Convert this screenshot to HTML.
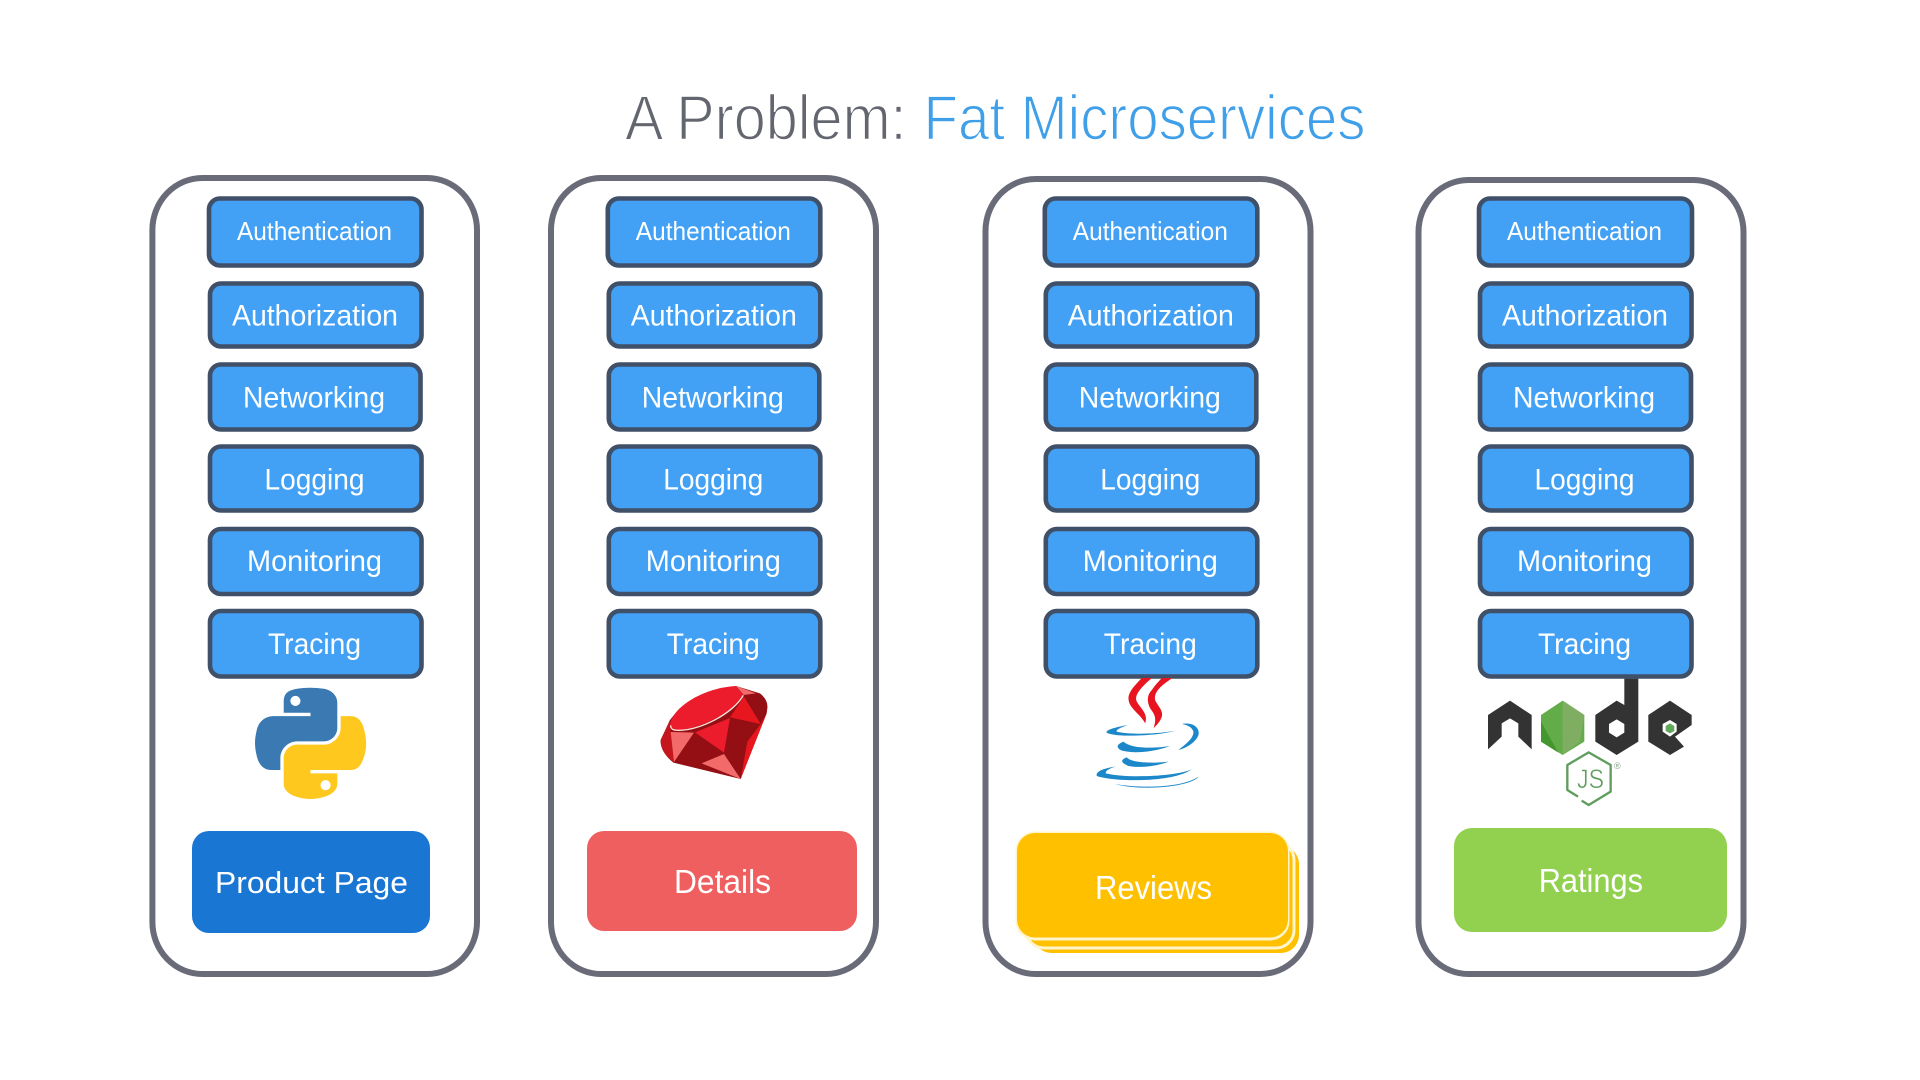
<!DOCTYPE html>
<html><head><meta charset="utf-8"><title>A Problem: Fat Microservices</title>
<style>
html,body{margin:0;padding:0;background:#fff;width:1920px;height:1080px;overflow:hidden}
svg{display:block}
text{font-family:"Liberation Sans",Arial,sans-serif}
.c{fill:#fff;stroke:#696b79;stroke-width:6}
.b{fill:#42a1f5;stroke:#3f5068;stroke-width:4.6}
.t{fill:#fff;font-size:30px}
.a{fill:#fff;font-size:26px}
.l{fill:#fff;font-size:33px}
</style></head><body>
<svg width="1920" height="1080" viewBox="0 0 1920 1080" xmlns="http://www.w3.org/2000/svg">
<rect width="1920" height="1080" fill="#fff"/>
<text x="625" y="139.5" font-size="63" fill="#64666f" stroke="#fff" stroke-width="1.5" textLength="281.5" lengthAdjust="spacingAndGlyphs">A Problem:</text>
<text x="923.5" y="139.5" font-size="63" fill="#3f9fe8" stroke="#fff" stroke-width="1.5" textLength="442" lengthAdjust="spacingAndGlyphs">Fat Microservices</text>

<rect class="c" x="152.4" y="178" width="324.6" height="796" rx="50" ry="52"/>
<rect class="c" x="551" y="178" width="325" height="796" rx="50" ry="52"/>
<rect class="c" x="985.5" y="179" width="325" height="795" rx="50" ry="52"/>
<rect class="c" x="1418.5" y="180" width="325" height="794" rx="50" ry="52"/>

<g>
<rect class="b" x="209" y="198.5" width="212.5" height="67" rx="11"/><text class="a" x="237" y="240" textLength="155" lengthAdjust="spacingAndGlyphs">Authentication</text>
<rect class="b" x="210" y="283.5" width="211.5" height="63" rx="11"/><text class="t" x="232" y="325.5" textLength="166" lengthAdjust="spacingAndGlyphs">Authorization</text>
<rect class="b" x="210" y="364.5" width="210.5" height="65" rx="11"/><text class="t" x="243" y="407.5" textLength="142" lengthAdjust="spacingAndGlyphs">Networking</text>
<rect class="b" x="210" y="446.5" width="211.5" height="64" rx="11"/><text class="t" x="264.5" y="489.5" textLength="100" lengthAdjust="spacingAndGlyphs">Logging</text>
<rect class="b" x="210" y="529" width="211.5" height="65" rx="11"/><text class="t" x="247" y="571" textLength="135" lengthAdjust="spacingAndGlyphs">Monitoring</text>
<rect class="b" x="210" y="611" width="211.5" height="65.5" rx="11"/><text class="t" x="268" y="654" textLength="93" lengthAdjust="spacingAndGlyphs">Tracing</text>
</g>
<g transform="translate(398.8 0)">
<rect class="b" x="209" y="198.5" width="212.5" height="67" rx="11"/><text class="a" x="237" y="240" textLength="155" lengthAdjust="spacingAndGlyphs">Authentication</text>
<rect class="b" x="210" y="283.5" width="211.5" height="63" rx="11"/><text class="t" x="232" y="325.5" textLength="166" lengthAdjust="spacingAndGlyphs">Authorization</text>
<rect class="b" x="210" y="364.5" width="210.5" height="65" rx="11"/><text class="t" x="243" y="407.5" textLength="142" lengthAdjust="spacingAndGlyphs">Networking</text>
<rect class="b" x="210" y="446.5" width="211.5" height="64" rx="11"/><text class="t" x="264.5" y="489.5" textLength="100" lengthAdjust="spacingAndGlyphs">Logging</text>
<rect class="b" x="210" y="529" width="211.5" height="65" rx="11"/><text class="t" x="247" y="571" textLength="135" lengthAdjust="spacingAndGlyphs">Monitoring</text>
<rect class="b" x="210" y="611" width="211.5" height="65.5" rx="11"/><text class="t" x="268" y="654" textLength="93" lengthAdjust="spacingAndGlyphs">Tracing</text>
</g>
<g transform="translate(835.8 0)">
<rect class="b" x="209" y="198.5" width="212.5" height="67" rx="11"/><text class="a" x="237" y="240" textLength="155" lengthAdjust="spacingAndGlyphs">Authentication</text>
<rect class="b" x="210" y="283.5" width="211.5" height="63" rx="11"/><text class="t" x="232" y="325.5" textLength="166" lengthAdjust="spacingAndGlyphs">Authorization</text>
<rect class="b" x="210" y="364.5" width="210.5" height="65" rx="11"/><text class="t" x="243" y="407.5" textLength="142" lengthAdjust="spacingAndGlyphs">Networking</text>
<rect class="b" x="210" y="446.5" width="211.5" height="64" rx="11"/><text class="t" x="264.5" y="489.5" textLength="100" lengthAdjust="spacingAndGlyphs">Logging</text>
<rect class="b" x="210" y="529" width="211.5" height="65" rx="11"/><text class="t" x="247" y="571" textLength="135" lengthAdjust="spacingAndGlyphs">Monitoring</text>
<rect class="b" x="210" y="611" width="211.5" height="65.5" rx="11"/><text class="t" x="268" y="654" textLength="93" lengthAdjust="spacingAndGlyphs">Tracing</text>
</g>
<g transform="translate(1270 0)">
<rect class="b" x="209" y="198.5" width="213" height="67" rx="11"/><text class="a" x="237" y="240" textLength="155" lengthAdjust="spacingAndGlyphs">Authentication</text>
<rect class="b" x="210" y="283.5" width="211.5" height="63" rx="11"/><text class="t" x="232" y="325.5" textLength="166" lengthAdjust="spacingAndGlyphs">Authorization</text>
<rect class="b" x="210" y="364.5" width="211" height="65" rx="11"/><text class="t" x="243" y="407.5" textLength="142" lengthAdjust="spacingAndGlyphs">Networking</text>
<rect class="b" x="210" y="446.5" width="211.5" height="64" rx="11"/><text class="t" x="264.5" y="489.5" textLength="100" lengthAdjust="spacingAndGlyphs">Logging</text>
<rect class="b" x="210" y="529" width="211.5" height="65" rx="11"/><text class="t" x="247" y="571" textLength="135" lengthAdjust="spacingAndGlyphs">Monitoring</text>
<rect class="b" x="210" y="611" width="211.5" height="65.5" rx="11"/><text class="t" x="268" y="654" textLength="93" lengthAdjust="spacingAndGlyphs">Tracing</text>
</g>

<!-- Python logo -->
<g transform="translate(255 687.7) scale(1.0 .99)">
<path fill="#3b79b2" d="M54.919 0.001c-4.584.022-8.961.413-12.813 1.095C30.76 3.099 28.7 7.295 28.7 15.032v10.219h26.813v3.406H28.7 18.638c-7.793 0-14.616 4.684-16.75 13.594-2.462 10.213-2.571 16.586 0 27.25 1.906 7.938 6.457 13.594 14.25 13.594h9.219v-12.25c0-8.85 7.657-16.656 16.75-16.656h26.781c7.454 0 13.406-6.138 13.406-13.625V15.032c0-7.266-6.13-12.725-13.406-13.937C64.282.328 59.502-.02 54.919.001zM40.419 8.22c2.77 0 5.031 2.299 5.031 5.125 0 2.816-2.262 5.094-5.031 5.094-2.779 0-5.031-2.277-5.031-5.094 0-2.826 2.252-5.125 5.031-5.125z"/>
<path fill="#ffc81f" d="M85.638 28.657v11.906c0 9.231-7.826 17-16.75 17H42.106c-7.336 0-13.406 6.278-13.406 13.625v25.531c0 7.266 6.319 11.54 13.406 13.625 8.487 2.496 16.626 2.947 26.781 0 6.75-1.954 13.406-5.888 13.406-13.625V86.501H55.513v-3.406H95.7c7.793 0 10.696-5.436 13.406-13.594 2.8-8.399 2.68-16.476 0-27.25-1.926-7.757-5.604-13.594-13.406-13.594zM70.575 93.313c2.779 0 5.031 2.277 5.031 5.094 0 2.826-2.252 5.125-5.031 5.125-2.77 0-5.031-2.299-5.031-5.125 0-2.816 2.262-5.094 5.031-5.094z"/>
</g>

<!-- Ruby logo -->
<g transform="translate(650 680) scale(.3333)">
<path fill="#930f14" d="M258 18L330 40Q355 60 352 85L350 100L272 297L70 248Q30 215 32 180L60 120Q110 50 258 18Z"/>
<path fill="#c5161d" d="M60 120L62 155L72 248Q30 215 32 180Z"/>
<path fill="#ec1c2c" d="M60 138C60 90 150 24 258 18L280 46C250 95 150 150 75 150Z"/>
<path fill="none" stroke="#fbe3dc" stroke-width="4" d="M62 136C62 148 70 151 85 151C150 152 250 100 280 46"/>
<path fill="#f26a6a" d="M258 18L318 40L281 45Z"/>
<path fill="#e8161f" d="M282 50L332 132L240 112Z"/>
<path fill="#ec1c2c" d="M135 157L240 114L222 218Z"/>
<path fill="#f26a6a" d="M62 156L132 158L72 246Z"/>
<path fill="#f26a6a" d="M222 222L272 297L155 250Z"/>
<path fill="#e8161f" d="M350 100L332 132L292 185L272 297Z"/>
</g>

<!-- Java logo -->
<g transform="translate(1098.5 680) scale(.3333)">
<g fill="#e8141f">
<path d="M130 -6H160C130 20 105 45 115 65C125 85 150 100 140 130C125 100 90 85 90 55C90 35 110 15 130 -6Z"/>
<path d="M190 -6H222C190 15 165 35 170 60C175 75 195 90 190 110C185 125 175 135 165 145C175 115 170 105 155 85C145 65 145 45 160 30C170 15 180 5 190 -6Z"/>
</g>
<g fill="#1c87c9">
<path d="M90 135C55 140 22 150 24 157C40 172 170 170 232 152C180 162 90 165 55 155C50 150 70 140 90 135Z"/>
<path d="M250 132C285 125 305 145 300 165C290 190 260 205 240 210C265 190 285 175 285 155C280 140 265 135 250 132Z"/>
<path d="M75 185C50 195 55 205 70 212C110 222 170 215 215 198C170 205 100 208 75 185Z"/>
<path d="M85 232C62 240 70 250 90 258C125 265 180 258 210 245C170 250 100 250 85 232Z"/>
<path d="M50 260C15 265 -10 275 -5 288C40 305 220 310 280 268C230 290 80 295 22 280C20 272 35 265 50 260Z"/>
<path d="M50 312C120 325 250 325 300 290C280 320 130 335 50 312Z"/>
</g>
</g>

<!-- Node logo -->
<g transform="translate(1490 680) scale(.3333)">
<path fill="#333" d="M-6 105L60 62L125 105V208L85 170V130L60 115L35 130V170L-6 208Z"/>
<path fill="#62ad4a" d="M218 62L283 105V185L218 225L153 185V105Z"/>
<path fill="#7fae62" d="M218 62L283 105L270 185L218 225Z"/>
<path fill="#44972f" d="M153 125L205 218L153 185Z"/>
<path fill="#333" fill-rule="evenodd" d="M403 -4H445V185L380 225L316 185V105L380 62L403 75ZM380 118L357 132V158L380 172L403 158V132Z"/>
<path fill="#333" fill-rule="evenodd" d="M540 62L605 105V135L555 170L582 200L540 225L475 185V105ZM540 120L518 132V155L540 170L560 155V132Z"/>
<path fill="#62a85a" d="M540 130L553 138V153L540 160L527 153V138Z"/>
<path fill="none" stroke="#5f9d5c" stroke-width="7" stroke-linejoin="round" d="M264 350L232 330V255L296 217L362 255V335L296 375L275 362"/>
</g>
<text x="1577" y="788" font-size="27" fill="#5f9d5c" stroke="#fff" stroke-width=".5" textLength="27" lengthAdjust="spacingAndGlyphs">JS</text>
<text x="1614" y="769" font-size="9" fill="#8aa88a">®</text>

<!-- Service boxes -->
<rect x="192" y="831" width="238" height="102" rx="17" fill="#1976d2"/>
<text class="l" style="font-size:31px" x="215" y="893" textLength="193" lengthAdjust="spacingAndGlyphs">Product Page</text>
<rect x="587" y="831" width="270" height="100" rx="17" fill="#ef5f60"/>
<text class="l" x="674" y="893" textLength="97" lengthAdjust="spacingAndGlyphs">Details</text>

<rect x="1033.5" y="846" width="265.5" height="107" rx="18" fill="#ffc000"/>
<rect x="1026" y="842" width="268" height="106" rx="18" fill="#ffc000" stroke="#fff5cc" stroke-width="3"/>
<rect x="1017" y="833" width="271" height="106" rx="18" fill="#ffc000" stroke="#fff5cc" stroke-width="3"/>
<rect x="1017" y="833" width="271" height="104.5" rx="18" fill="#ffc000"/>
<text class="l" x="1095" y="899" textLength="117" lengthAdjust="spacingAndGlyphs">Reviews</text>

<rect x="1454" y="828" width="273" height="104" rx="18" fill="#92d050"/>
<text class="l" x="1538.7" y="892" textLength="104.3" lengthAdjust="spacingAndGlyphs">Ratings</text>
</svg>
</body></html>
